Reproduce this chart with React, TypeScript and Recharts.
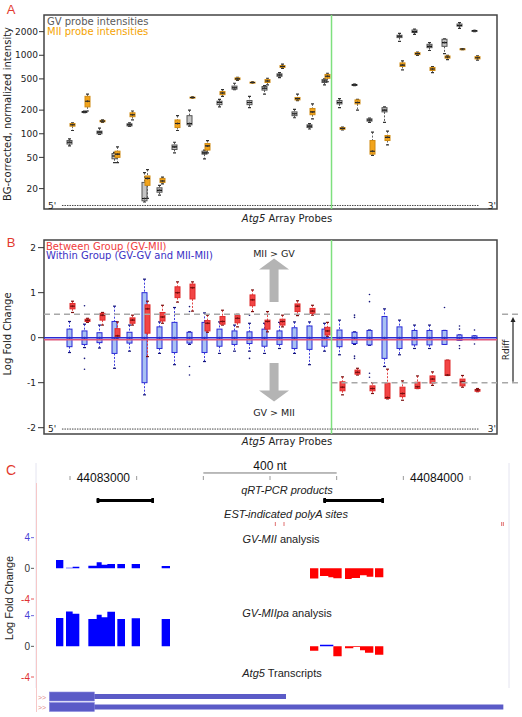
import React from 'react';
import {
  ComposedChart, Bar, Area, Scatter, XAxis, YAxis, ReferenceLine, ReferenceArea, CartesianGrid,
} from 'recharts';

const AFONT = 'DejaVu Sans';
const CFONT = 'Liberation Sans, Arial';

// probe categories (5' -> 3')
const probes = Array.from({ length: 28 }, (_, i) => `p${i + 1}`);

// panel A, GV intensities (box stats per probe)
const gvLo = [70, 186, 98, 43, 124, 13.5, 16.5, 57, 125, 48, 220, 365, 215, 320, 520, 160, 115, 420, 215, 410, 140, 140, 1500, 1850, 1150, 1050, 2200, 2000];
const gvQ1 = [74, 188, 100, 48, 126, 14, 18, 63, 130, 55, 235, 370, 235, 360, 540, 170, 120, 450, 240, 415, 145, 190, 1680, 1950, 1250, 1300, 2350, 2030];
const gvMed = [78, 190, 105, 52, 130, 15, 19, 68, 135, 57, 250, 385, 250, 380, 560, 180, 125, 470, 250, 420, 150, 200, 1750, 2000, 1300, 1450, 2400, 2050];
const gvQ3 = [82, 192, 108, 56, 134, 24, 20.5, 72, 170, 60, 260, 405, 265, 400, 580, 190, 130, 490, 265, 425, 155, 215, 1800, 2100, 1380, 1600, 2500, 2070];
const gvHi = [86, 194, 118, 58, 138, 32, 22, 78, 200, 62, 275, 440, 300, 410, 600, 205, 135, 500, 280, 430, 158, 220, 1900, 2150, 1450, 1620, 2600, 2080];

// panel A, MII intensities
const miiLo = [110, 195, 140, 43, 150, 15, 23, 110, 285, 57, 300, 480, 445, 420, 680, 265, 155, 460, 112, 200, 53, 72, 650, 1000, 600, 880, 1180, 870];
const miiQ1 = [125, 220, 142, 50, 165, 22, 24, 120, 287, 62, 315, 490, 447, 450, 700, 270, 175, 510, 114, 240, 55, 82, 720, 1020, 640, 920, 1190, 900];
const miiMed = [130, 260, 145, 55, 175, 27, 25, 135, 290, 70, 330, 500, 450, 470, 720, 280, 190, 540, 117, 250, 60, 90, 750, 1050, 670, 950, 1200, 930];
const miiQ3 = [135, 300, 148, 60, 185, 29, 27, 150, 293, 75, 345, 515, 455, 490, 740, 290, 210, 570, 120, 270, 82, 95, 800, 1080, 700, 980, 1210, 960];
const miiHi = [138, 320, 150, 68, 195, 35, 28, 170, 295, 82, 365, 525, 458, 510, 770, 320, 240, 590, 122, 275, 105, 108, 850, 1100, 720, 1000, 1220, 980];

// panel B, within group log fold change
const wgLo = [-0.33, -0.22, -0.23, -0.68, -0.3, -1.27, -0.35, -0.6, -0.15, -0.53, -0.35, -0.3, -0.3, -0.35, -0.24, -0.35, -0.6, -0.3, -0.38, -0.15, -0.17, -0.64, -0.38, -0.24, -0.24, -0.15, -0.06, -0.04];
const wgQ1 = [-0.2, -0.15, -0.11, -0.35, -0.12, -1.0, -0.24, -0.33, -0.12, -0.33, -0.19, -0.15, -0.13, -0.19, -0.15, -0.24, -0.26, -0.19, -0.2, -0.13, -0.16, -0.46, -0.24, -0.16, -0.16, -0.15, -0.06, -0.04];
const wgMed = [0, 0, 0, 0, 0, 0, 0, 0, 0, 0, 0, 0, 0, 0, 0, 0, 0, 0, 0, 0, 0, 0, 0, 0, 0, 0, 0, 0];
const wgQ3 = [0.19, 0.15, 0.11, 0.36, 0.12, 1.0, 0.24, 0.34, 0.12, 0.34, 0.19, 0.15, 0.13, 0.19, 0.15, 0.22, 0.26, 0.19, 0.17, 0.12, 0.16, 0.47, 0.24, 0.16, 0.16, 0.16, 0.06, 0.04];
const wgHi = [0.36, 0.3, 0.28, 0.7, 0.28, 1.3, 0.35, 0.67, 0.13, 0.55, 0.35, 0.28, 0.32, 0.32, 0.34, 0.35, 0.35, 0.32, 0.39, 0.13, 0.17, 0.64, 0.39, 0.28, 0.28, 0.16, 0.06, 0.04];
const wgOut: number[][] = [[], [0.71, -0.46, -0.7], [], [], [], [], [], [], [0.69, 0.58, -0.64, -0.83], [], [], [], [0.5, -0.46], [], [], [], [], [], [], [0.5, 0.45, -0.41, -0.46], [0.96, 0.8, -0.79, -0.88], [], [], [], [], [0.67], [0.26, 0.19, -0.18, -0.24], [0.17, -0.14]];

// panel B, between group log fold change
const bgLo = [0.56, 0.34, 0.28, -0.03, 0.28, -0.42, 0.32, 0.79, 0.59, 0.12, 0.28, 0.24, 0.58, 0.13, 0.24, 0.49, 0.5, 0.02, -1.27, -0.83, -1.24, -1.36, -1.39, -1.13, -1.06, -0.84, -1.1, -1.2];
const bgQ1 = [0.64, 0.36, 0.39, 0.0, 0.32, 0.1, 0.37, 0.89, 0.86, 0.15, 0.3, 0.33, 0.71, 0.19, 0.28, 0.58, 0.54, 0.06, -1.18, -0.81, -1.18, -1.35, -1.31, -1.13, -1.01, -0.84, -1.07, -1.19];
const bgMed = [0.7, 0.385, 0.5, 0.04, 0.39, 0.64, 0.46, 1.0, 1.11, 0.32, 0.36, 0.43, 0.84, 0.36, 0.36, 0.7, 0.59, 0.15, -1.1, -0.77, -1.13, -1.33, -1.24, -1.09, -0.92, -0.83, -0.98, -1.16];
const bgQ3 = [0.76, 0.41, 0.54, 0.2, 0.44, 0.73, 0.56, 1.13, 1.19, 0.38, 0.47, 0.49, 0.95, 0.39, 0.41, 0.75, 0.65, 0.23, -0.98, -0.72, -1.07, -1.01, -1.1, -0.99, -0.85, -0.5, -0.92, -1.15];
const bgHi = [0.81, 0.43, 0.56, 0.35, 0.5, 0.81, 0.72, 1.24, 1.24, 0.5, 0.61, 0.52, 1.06, 0.58, 0.5, 0.82, 0.72, 0.34, -0.87, -0.68, -1.0, -0.7, -0.96, -0.85, -0.76, -0.5, -0.84, -1.13];

// panel C, genome coordinates (chr position)
const gDomain: [number, number] = [44082798, 44084217];
const rulerTicks = [44082900, 44083100, 44083300, 44083500, 44083700, 44083900, 44084100];
const rulerLabels = [44083000, 44084000];
const scaleBar = [44083300, 44083700];

const qpcrStart = [44082980, 44083660];
const qpcrEnd = [44083152, 44083842];
const polyASites = [44083516, 44083542, 44084195, 44084200];

const miiStart = [44082858, 44082888, 44082908, 44082955, 44082980, 44082995, 44083012, 44083042, 44083085, 44083175, 44083620, 44083650, 44083675, 44083690, 44083725, 44083745, 44083770, 44083790, 44083815];
const miiEnd = [44082880, 44082908, 44082928, 44082980, 44082995, 44083012, 44083035, 44083065, 44083110, 44083200, 44083645, 44083675, 44083690, 44083715, 44083745, 44083770, 44083790, 44083810, 44083840];
const miiLfc = [1.09, 0.08, 0.2, 0.35, 0.78, 0.48, 0.56, 0.56, 0.56, 0.3, -1.31, -1.0, -1.15, -1.3, -1.4, -1.25, -0.9, -1.1, -1.15];

const paStart = [44082858, 44082888, 44082908, 44082955, 44082980, 44082995, 44083012, 44083042, 44083085, 44083175, 44083620, 44083650, 44083690, 44083725, 44083750, 44083770, 44083785, 44083815];
const paEnd = [44082880, 44082908, 44082928, 44082980, 44082995, 44083012, 44083035, 44083065, 44083110, 44083200, 44083645, 44083690, 44083715, 44083750, 44083770, 44083785, 44083810, 44083840];
const paLfc = [3.7, 4.55, 4.25, 3.58, 4.12, 3.8, 4.5, 3.58, 3.65, 3.58, -0.56, 0.2, -1.28, -0.26, -0.08, -0.5, -0.85, -1.1];

const trackTicks = [-4, 0, 4];

const txNames = ['tx1', 'tx2'];
const txStart = [44082838, 44082838];
const txThickEnd = [44082973, 44082973];
const txEnd = [44083548, 44084200];

// ---------- helpers ----------
const stats = (lo: number[], q1: number[], med: number[], q3: number[], hi: number[], out?: number[][]) =>
  lo.map((_, i) => ({ lo: lo[i], q1: q1[i], med: med[i], q3: q3[i], hi: hi[i], out: out ? out[i] : [] }));

const gvStats = stats(gvLo, gvQ1, gvMed, gvQ3, gvHi);
const miiStats = stats(miiLo, miiQ1, miiMed, miiQ3, miiHi);
const wgStats = stats(wgLo, wgQ1, wgMed, wgQ3, wgHi, wgOut);
const bgStats = stats(bgLo, bgQ1, bgMed, bgQ3, bgHi);

const rowsA = probes.map((probe, i) => ({
  probe, idx: i + 1, gv: gvStats[i], mii: miiStats[i],
  gvRange: [gvLo[i], gvHi[i]], miiRange: [miiLo[i], miiHi[i]],
}));
const rowsB = probes.map((probe, i) => ({
  probe, idx: i + 1, wg: wgStats[i], bg: bgStats[i],
  wgRange: [wgLo[i], wgHi[i]], bgRange: [bgLo[i], bgHi[i]],
}));

type BoxStyle = { key: string; log?: boolean; w: number; fill: string; stroke: string; whisker: string; median: string; dot: string };

const makeBox = (st: BoxStyle) => (props: any) => {
  const { x, y, width, height } = props;
  const d = (props.payload ?? props)[st.key];
  if (!d || !Number.isFinite(y) || !Number.isFinite(height)) return <g />;
  const f = (v: number) => (st.log ? Math.log10(v) : v);
  const top = Math.min(y, y + height);
  const bot = Math.max(y, y + height);
  const span = f(d.hi) - f(d.lo);
  const py = (v: number) => (span === 0 ? top : top + ((f(d.hi) - f(v)) / span) * (bot - top));
  const cx = x + width / 2;
  const hw = st.w / 2;
  const q3y = py(d.q3);
  const q1y = py(d.q1);
  const my = py(d.med);
  return (
    <g>
      <line x1={cx} x2={cx} y1={top} y2={q3y} stroke={st.whisker} strokeWidth={0.9} strokeDasharray="2 1.5" />
      <line x1={cx} x2={cx} y1={q1y} y2={bot} stroke={st.whisker} strokeWidth={0.9} strokeDasharray="2 1.5" />
      <line x1={cx - 1.5} x2={cx + 1.5} y1={top} y2={top} stroke={st.dot} strokeWidth={1.2} />
      <line x1={cx - 1.5} x2={cx + 1.5} y1={bot} y2={bot} stroke={st.dot} strokeWidth={1.2} />
      <rect x={cx - hw} y={q3y} width={st.w} height={Math.max(q1y - q3y, 1)} fill={st.fill} stroke={st.stroke} strokeWidth={1} />
      <line x1={cx - hw} x2={cx + hw} y1={my} y2={my} stroke={st.median} strokeWidth={1.1} />
      <circle cx={cx} cy={my} r={1} fill={st.dot} />
      {(d.out ?? []).map((v: number, i: number) => (
        <circle key={i} cx={cx} cy={py(v)} r={0.8} fill={st.dot} />
      ))}
    </g>
  );
};

const BlockArrow = (p: any) => {
  const { x1, y1, y2 } = p;
  const dir = y2 < y1 ? -1 : 1;
  const headY = y2 - dir * 11;
  const pts = [[x1 - 4.5, y1], [x1 - 4.5, headY], [x1 - 15, headY], [x1, y2], [x1 + 15, headY], [x1 + 4.5, headY], [x1 + 4.5, y1]];
  return <polygon points={pts.map((q) => q.join(',')).join(' ')} fill="#b4b4b4" />;
};

const ThinArrow = (p: any) => {
  const { x1, y1, y2 } = p;
  return (
    <g>
      <line x1={x1} x2={x1} y1={y1} y2={y2 + 4} stroke="#222" strokeWidth={1.2} />
      <polygon points={`${x1 - 2.5},${y2 + 5} ${x1},${y2} ${x1 + 2.5},${y2 + 5}`} fill="#222" />
    </g>
  );
};

const trackRows = (starts: number[], ends: number[], vals: number[]) => {
  const rows: { pos: number; up: number | null; dn: number | null }[] = [];
  starts.forEach((s, i) => {
    const v = vals[i];
    const up = v >= 0 ? v : null;
    const dn = v < 0 ? v : null;
    rows.push({ pos: s, up, dn }, { pos: ends[i], up, dn }, { pos: ends[i], up: null, dn: null });
  });
  return rows;
};

// qRT-PCR glyph: thin bar with slightly taller end caps (caps span 8 nt at each end)
const qpcrRows = () => {
  const rows: { pos: number; bar: number | null; cap: number | null }[] = [];
  qpcrStart.forEach((s, i) => {
    const e = qpcrEnd[i];
    rows.push(
      { pos: s, bar: 1, cap: 1.7 }, { pos: s + 8, bar: 1, cap: 1.7 }, { pos: s + 8, bar: 1, cap: null },
      { pos: e - 8, bar: 1, cap: null }, { pos: e - 8, bar: 1, cap: 1.7 }, { pos: e, bar: 1, cap: 1.7 },
      { pos: e, bar: null, cap: null },
    );
  });
  return rows;
};

const tickColor = (v: number) => (v > 0 ? '#4a3fd6' : v < 0 ? '#e03030' : '#333');

// track axis label drawn by a reference line at the left edge of the track
const TrackLabel = (v: number) => (p: any) => {
  const { x1, y1 } = p;
  const c = tickColor(v);
  return (
    <g>
      <text x={x1 - 6} y={y1} dy="0.35em" textAnchor="end" fontSize={10} fill={c} fontFamily={CFONT}>{v}</text>
      <line x1={x1 - 5} x2={x1 - 2} y1={y1} y2={y1} stroke={c} strokeWidth={0.8} />
    </g>
  );
};

const RulerTick = (p: any) => {
  const v = p.payload.value;
  if (rulerLabels.includes(v)) {
    return <text x={p.x} y={p.y + 4} dy="0.35em" textAnchor="middle" fontSize={12} fontFamily={CFONT} fill="#111">{v}</text>;
  }
  return <line x1={p.x} x2={p.x} y1={p.y + 2} y2={p.y + 6} stroke="#999" strokeWidth={1} />;
};

// transcript glyph: thick block up to thickEnd, thin line to the transcript end
const TxShape = (p: any) => {
  const { x, y, width, height } = p;
  const d = p.payload ?? p;
  const k = width / (d.span[1] - d.span[0]);
  const xThick = x + (d.thickEnd - d.span[0]) * k;
  const cy = y + height / 2;
  return (
    <g>
      <rect x={x} y={cy - 4.5} width={xThick - x} height={9} fill="#5b5bc7" stroke="#8c8ce2" strokeWidth={0.6} />
      <rect x={xThick} y={cy - 2.5} width={x + width - xThick} height={5} fill="#5b5bc7" />
    </g>
  );
};

const PolyATick = (p: any) => (
  <line x1={p.cx} x2={p.cx} y1={p.cy - 2} y2={p.cy + 2} stroke="#e07070" strokeWidth={1} />
);

const Txt = ({ x, y, size = 9.5, color = '#222', anchor = 'middle', rotate = false, family = AFONT, italic = false, z = 3, children }: any) => {
  const tx = anchor === 'middle' ? '-50%' : anchor === 'end' ? '-100%' : '0';
  return (
    <div style={{
      position: 'absolute', left: x, top: y, whiteSpace: 'nowrap', lineHeight: 1, zIndex: z,
      transform: `translate(${tx},-50%)${rotate ? ' rotate(-90deg)' : ''}`,
      fontSize: size, color, fontFamily: family, fontStyle: italic ? 'italic' : 'normal',
    }}>{children}</div>
  );
};

const Track = ({ top, starts, ends, vals }: { top: number; starts: number[]; ends: number[]; vals: number[] }) => (
  <div style={{ position: 'absolute', left: 0, top, zIndex: 2 }}>
    <ComposedChart width={522} height={85} data={trackRows(starts, ends, vals)} margin={{ top: 8, right: 13, bottom: 8, left: 36 }}>
      <XAxis dataKey="pos" type="number" domain={gDomain} hide allowDataOverflow />
      <YAxis hide domain={[-4, 5]} allowDataOverflow />
      <Area dataKey="up" type="linear" baseValue={0} fill="#0000ff" fillOpacity={1} stroke="none" isAnimationActive={false} />
      <Area dataKey="dn" type="linear" baseValue={0} fill="#ff0000" fillOpacity={1} stroke="none" isAnimationActive={false} />
      {trackTicks.map((v) => (
        <ReferenceLine key={v} segment={[{ x: gDomain[0], y: v }, { x: gDomain[0], y: v }]} shape={TrackLabel(v)} ifOverflow="visible" />
      ))}
    </ComposedChart>
  </div>
);

const stripes = Array.from({ length: 118 }, (_, i) => gDomain[0] + 3 + i * 12);
const pDomain: [number, number] = [-0.767, 29.433];
const gEnds = [{ pos: gDomain[0], y: 0 }, { pos: gDomain[1], y: 1 }];

export default function App() {
  return (
    <div style={{ position: 'absolute', left: 0, top: 0, width: 522, height: 717, background: '#fff', overflow: 'hidden' }}>
      {/* panel A */}
      <div style={{ position: 'absolute', left: 0, top: 0 }}>
        <ComposedChart width={522} height={225} data={rowsA} margin={{ top: 15, right: 25, bottom: 16, left: 0 }} barSize={3} barGap={0}>
          <XAxis xAxisId="c" dataKey="probe" type="category" hide padding={{ left: 19, right: 14 }} />
          <XAxis xAxisId="n" dataKey="idx" type="number" domain={pDomain} hide allowDataOverflow />
          <YAxis width={44} scale="log" domain={[11, 3260]} ticks={[20, 50, 100, 200, 500, 1000, 2000]} allowDataOverflow
            axisLine={false} tickSize={5} tickMargin={1} tickLine={{ stroke: '#333' }}
            tick={{ fontSize: 9, fill: '#222', fontFamily: AFONT }} />
          <ReferenceLine xAxisId="n" segment={[{ x: 0.43, y: 12.2 }, { x: 28.2, y: 12.2 }]} stroke="#444" strokeDasharray="1.5 1" strokeWidth={1} />
          <ReferenceLine xAxisId="n" x={18.4} stroke="#7ee07e" strokeWidth={1.5} />
          <Bar xAxisId="c" dataKey="gvRange" isAnimationActive={false}
            shape={makeBox({ key: 'gv', log: true, w: 5, fill: '#c4c4c4', stroke: '#555', whisker: '#444', median: '#111', dot: '#333' })} />
          <Bar xAxisId="c" dataKey="miiRange" isAnimationActive={false}
            shape={makeBox({ key: 'mii', log: true, w: 5, fill: '#f2a41c', stroke: '#d08a10', whisker: '#555', median: '#222', dot: '#333' })} />
          <ReferenceArea xAxisId="n" x1={pDomain[0]} x2={pDomain[1]} y1={11} y2={3260} fill="none" stroke="#444" strokeWidth={1.5} ifOverflow="visible" />
        </ComposedChart>
      </div>

      {/* panel B */}
      <div style={{ position: 'absolute', left: 0, top: 225 }}>
        <ComposedChart width={522} height={215} data={rowsB} margin={{ top: 15, right: 25, bottom: 6, left: 0 }} barSize={3} barGap={0}>
          <XAxis xAxisId="c" dataKey="probe" type="category" hide padding={{ left: 19, right: 14 }} />
          <XAxis xAxisId="n" dataKey="idx" type="number" domain={pDomain} hide allowDataOverflow />
          <YAxis width={44} domain={[-2.14, 2.17]} ticks={[-2, -1, 0, 1, 2]} allowDataOverflow
            axisLine={false} tickSize={6} tickMargin={2} tickLine={{ stroke: '#333' }}
            tick={{ fontSize: 9, fill: '#222', fontFamily: AFONT }} />
          <ReferenceLine xAxisId="n" segment={[{ x: 0.43, y: -2.03 }, { x: 28.2, y: -2.03 }]} stroke="#444" strokeDasharray="1.5 1" strokeWidth={1} />
          <ReferenceLine xAxisId="n" segment={[{ x: pDomain[0], y: 0.52 }, { x: 18.4, y: 0.52 }]} stroke="#a8a8a8" strokeDasharray="6 4" strokeWidth={1.5} />
          <ReferenceLine xAxisId="n" segment={[{ x: 18.4, y: -1.0 }, { x: pDomain[1], y: -1.0 }]} stroke="#a8a8a8" strokeDasharray="6 4" strokeWidth={1.5} />
          <ReferenceLine xAxisId="n" segment={[{ x: 29.77, y: 0.52 }, { x: 30.83, y: 0.52 }]} stroke="#a8a8a8" strokeDasharray="6 4" strokeWidth={1.5} ifOverflow="visible" />
          <ReferenceLine xAxisId="n" segment={[{ x: 29.77, y: -1.0 }, { x: 30.83, y: -1.0 }]} stroke="#a8a8a8" strokeDasharray="6 4" strokeWidth={1.5} ifOverflow="visible" />
          <ReferenceLine xAxisId="n" segment={[{ x: 30.5, y: -0.98 }, { x: 30.5, y: 0.46 }]} shape={ThinArrow} ifOverflow="visible" />
          <ReferenceLine xAxisId="n" segment={[{ x: 14.57, y: 0.79 }, { x: 14.57, y: 1.76 }]} shape={BlockArrow} />
          <ReferenceLine xAxisId="n" segment={[{ x: 14.57, y: -0.56 }, { x: 14.57, y: -1.42 }]} shape={BlockArrow} />
          <ReferenceLine xAxisId="n" y={-0.045} stroke="#e0587a" strokeWidth={1.5} />
          <ReferenceLine xAxisId="n" y={0} stroke="#2a2ad2" strokeWidth={1.5} />
          <ReferenceLine xAxisId="n" x={18.4} stroke="#7ee07e" strokeWidth={1.5} />
          <Bar xAxisId="c" dataKey="wgRange" isAnimationActive={false}
            shape={makeBox({ key: 'wg', w: 5, fill: '#a9c2f2', stroke: '#2a2ad8', whisker: '#2a2ad8', median: '#1a1a80', dot: '#14147a' })} />
          <Bar xAxisId="c" dataKey="bgRange" isAnimationActive={false}
            shape={makeBox({ key: 'bg', w: 5, fill: '#f24545', stroke: '#e02a2a', whisker: '#e03030', median: '#7a1010', dot: '#7a1010' })} />
          <ReferenceArea xAxisId="n" x1={pDomain[0]} x2={pDomain[1]} y1={-2.14} y2={2.17} fill="none" stroke="#444" strokeWidth={1.5} ifOverflow="visible" />
        </ComposedChart>
      </div>

      {/* panel C: background stripes */}
      <div style={{ position: 'absolute', left: 0, top: 463 }}>
        <ComposedChart width={522} height={225} data={gEnds} margin={{ top: 0, right: 13, bottom: 0, left: 36 }}>
          <CartesianGrid horizontal={false} stroke="#e4e4f0" />
          <XAxis dataKey="pos" type="number" domain={gDomain} ticks={stripes} interval={0} tick={false} tickLine={false} axisLine={false} height={0} allowDataOverflow />
          <YAxis dataKey="y" hide domain={[0, 1]} />
        </ComposedChart>
      </div>
      <div style={{ position: 'absolute', left: 36, top: 483, width: 1, height: 229, background: '#f6c8c8' }} />
      <Txt x={9} y={598} size={11} family={CFONT} rotate z={1}>Log Fold Change</Txt>

      {/* ruler */}
      <div style={{ position: 'absolute', left: 0, top: 450 }}>
        <ComposedChart width={522} height={40} data={gEnds} margin={{ top: 18, right: 13, bottom: 0, left: 36 }}>
          <XAxis dataKey="pos" type="number" domain={gDomain} ticks={[...rulerTicks, ...rulerLabels].sort((a, b) => a - b)} interval={0}
            tick={<RulerTick />} tickLine={false} axisLine={false} tickSize={0} tickMargin={0} height={16} allowDataOverflow />
          <YAxis dataKey="y" hide domain={[0, 1]} allowDataOverflow />
          <ReferenceLine segment={[{ x: scaleBar[0], y: 0.17 }, { x: scaleBar[1], y: 0.17 }]} stroke="#777" strokeWidth={1} ifOverflow="visible"
            label={{ value: '400 nt', position: 'top', offset: 3, fontSize: 12, fill: '#111', fontFamily: CFONT }} />
        </ComposedChart>
      </div>

      {/* qRT-PCR products */}
      <div style={{ position: 'absolute', left: 0, top: 493 }}>
        <ComposedChart width={522} height={15} data={qpcrRows()} margin={{ top: 0, right: 13, bottom: 0, left: 36 }}>
          <XAxis dataKey="pos" type="number" domain={gDomain} hide allowDataOverflow />
          <YAxis hide domain={[-5, 5]} allowDataOverflow />
          <Area dataKey="bar" type="linear" baseValue={-1} fill="#000" fillOpacity={1} stroke="none" isAnimationActive={false} />
          <Area dataKey="cap" type="linear" baseValue={-1.7} fill="#000" fillOpacity={1} stroke="none" isAnimationActive={false} />
        </ComposedChart>
      </div>

      {/* polyA sites */}
      <div style={{ position: 'absolute', left: 0, top: 519 }}>
        <ComposedChart width={522} height={10} data={polyASites.map((pos) => ({ pos, y: 0 }))} margin={{ top: 0, right: 13, bottom: 0, left: 36 }}>
          <XAxis dataKey="pos" type="number" domain={gDomain} hide allowDataOverflow />
          <YAxis dataKey="y" hide domain={[-1, 1]} />
          <Scatter dataKey="y" shape={PolyATick} isAnimationActive={false} />
        </ComposedChart>
      </div>

      {/* log fold change tracks */}
      <Track top={600} starts={paStart} ends={paEnd} vals={paLfc} />
      <Track top={522} starts={miiStart} ends={miiEnd} vals={miiLfc} />

      {/* transcripts */}
      <div style={{ position: 'absolute', left: 0, top: 691 }}>
        <ComposedChart width={522} height={21} layout="vertical"
          data={txNames.map((tx, i) => ({ tx, span: [txStart[i], txEnd[i]], thickEnd: txThickEnd[i] }))}
          margin={{ top: 0, right: 13, bottom: 0, left: 36 }} barSize={9}>
          <XAxis type="number" domain={gDomain} hide allowDataOverflow />
          <YAxis type="category" dataKey="tx" hide />
          <Bar dataKey="span" shape={TxShape} isAnimationActive={false} />
        </ComposedChart>
      </div>

      {/* text: panel A */}
      <Txt x={11} y={9} size={13} color="#e23a2e" family={CFONT}>A</Txt>
      <Txt x={47} y={21.5} anchor="start" color="#5a5a5a" size={10}>GV probe intensities</Txt>
      <Txt x={47} y={31.5} anchor="start" color="#f5a300" size={10}>MII probe intensities</Txt>
      <Txt x={8} y={114} rotate size={10}>BG-corrected, normalized intensity</Txt>
      <Txt x={48} y={205.5} anchor="start" size={9}>5'</Txt>
      <Txt x={496} y={205.5} anchor="end" size={9}>3'</Txt>
      <Txt x={287} y={218.5} size={10}><i>Atg5</i> Array Probes</Txt>

      {/* text: panel B */}
      <Txt x={11} y={242} size={13} color="#e23a2e" family={CFONT}>B</Txt>
      <Txt x={46} y={246.5} anchor="start" color="#f03c3c" size={10}>Between Group (GV-MII)</Txt>
      <Txt x={46} y={256} anchor="start" color="#3a2fc4" size={10}>Within Group (GV-GV and MII-MII)</Txt>
      <Txt x={274} y={254}>MII &gt; GV</Txt>
      <Txt x={274} y={413}>GV &gt; MII</Txt>
      <Txt x={506} y={350} rotate size={9}>Rdiff</Txt>
      <Txt x={8} y={334} rotate size={10}>Log Fold Change</Txt>
      <Txt x={48} y={429} anchor="start" size={9}>5'</Txt>
      <Txt x={496} y={429} anchor="end" size={9}>3'</Txt>
      <Txt x={287} y={442} size={10}><i>Atg5</i> Array Probes</Txt>

      {/* text: panel C */}
      <Txt x={11} y={470} size={14} color="#e23a2e" family={CFONT}>C</Txt>
      <Txt x={287} y={490} size={11} family={CFONT} italic>qRT-PCR products</Txt>
      <Txt x={286} y={513.5} size={11} family={CFONT} italic>EST-indicated polyA sites</Txt>
      <Txt x={281} y={539} size={11} family={CFONT}><i>GV-MII</i> analysis</Txt>
      <Txt x={287} y={613} size={11} family={CFONT}><i>GV-MIIpa</i> analysis</Txt>
      <Txt x={282} y={673} size={11} family={CFONT}><i>Atg5</i> Transcripts</Txt>
      <Txt x={38} y={696.5} anchor="start" size={7} color="#e08a8a" family={CFONT}>&gt;&gt;</Txt>
      <Txt x={38} y={706.5} anchor="start" size={7} color="#e08a8a" family={CFONT}>&gt;&gt;</Txt>
    </div>
  );
}
